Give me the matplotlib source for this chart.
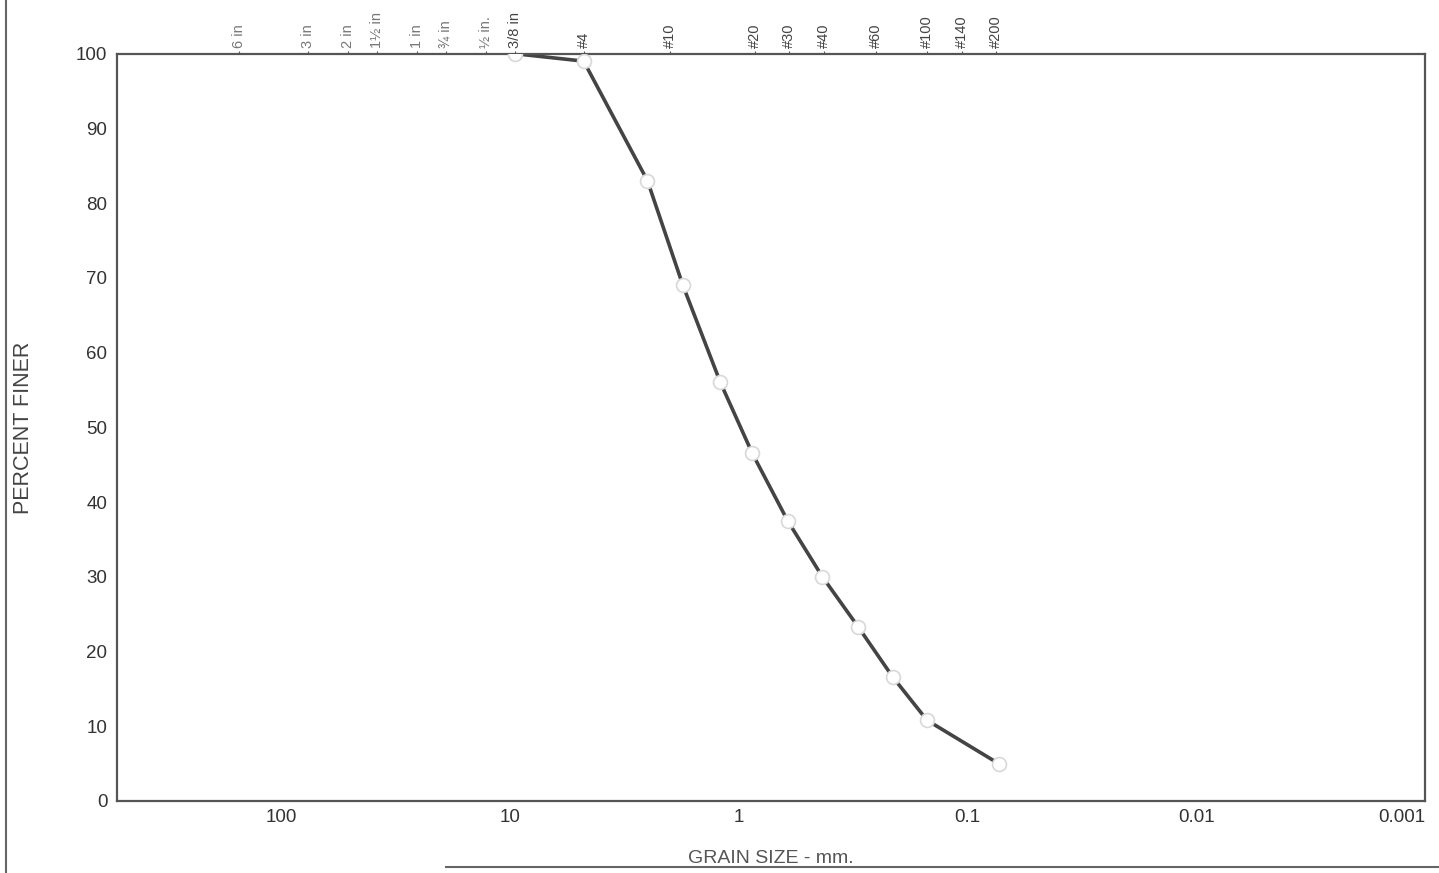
import matplotlib
matplotlib.use("Agg")
import matplotlib.pyplot as plt
from matplotlib.lines import Line2D

plt.rcParams["font.family"] = ["Liberation Sans", "DejaVu Sans"]

# sieve analysis
grain_mm = [9.5, 4.75, 2.5, 1.75, 1.2, 0.87, 0.61, 0.43, 0.30, 0.212, 0.15, 0.073]
pct_finer = [100.0, 99.0, 83.0, 69.0, 56.0, 46.5, 37.5, 30.0, 23.3, 16.6, 10.8, 5.0]

sieve_mm = [152.4, 76.2, 50.8, 38.1, 25.4, 19.05, 12.7, 9.525,
            4.75, 2.0, 0.85, 0.6, 0.425, 0.25, 0.15, 0.106, 0.075]
sieve_labels = ["6 in", "3 in", "2 in", "1\u00bd in", "1 in", "\u00be in", "\u00bd in.", "3/8 in",
                "#4", "#10", "#20", "#30", "#40", "#60", "#100", "#140", "#200"]

x_ticks = [100, 10, 1, 0.1, 0.01, 0.001]
x_ticklabels = ["100", "10", "1", "0.1", "0.01", "0.001"]
y_ticks = [0, 10, 20, 30, 40, 50, 60, 70, 80, 90, 100]

fig = plt.figure(figsize=(14.39, 8.73), dpi=100)
ax = fig.add_axes([0.0813, 0.0825, 0.909, 0.856])

ax.plot(grain_mm, pct_finer, color="#444444", linewidth=2.6, zorder=2)
ax.plot(grain_mm, pct_finer, linestyle="none", marker="o", markersize=10,
        markerfacecolor="white", markeredgecolor="#d8d8d8", markeredgewidth=1.2, zorder=3)

ax.set_xscale("log")
ax.set_xlim(520, 0.001)
ax.set_ylim(0, 100)
ax.set_xticks(x_ticks)
ax.set_xticklabels(x_ticklabels)
ax.get_xticklabels()[-1].set_horizontalalignment("right")
ax.minorticks_off()
ax.set_yticks(y_ticks)
ax.tick_params(axis="both", length=0, labelsize=13.5, labelcolor="#333333")
ax.tick_params(axis="x", pad=6)
ax.tick_params(axis="y", pad=7)
for side in ax.spines.values():
    side.set_color("#555555")
    side.set_linewidth(1.6)

top = ax.secondary_xaxis("top")
top.set_xticks(sieve_mm)
top.set_xticklabels(sieve_labels, rotation=90, fontsize=10.5, color="#444444")
for lbl in top.get_xticklabels()[:7]:
    lbl.set_color("#777777")
top.minorticks_off()
top.tick_params(axis="x", length=2, pad=2, color="#555555")
top.spines["top"].set_visible(False)

ax.set_xlabel("GRAIN SIZE - mm.", fontsize=14, color="#555555", labelpad=17)
ax.set_ylabel("PERCENT FINER", fontsize=15.5, color="#444444", labelpad=30)

# scanned page border lines
fig.add_artist(Line2D([0.004, 0.004], [0.0, 1.0], color="#666666", linewidth=1.5))
fig.add_artist(Line2D([0.31, 1.0], [0.007, 0.007], color="#666666", linewidth=1.5))

fig.savefig("out.png", dpi=100, facecolor="white")
